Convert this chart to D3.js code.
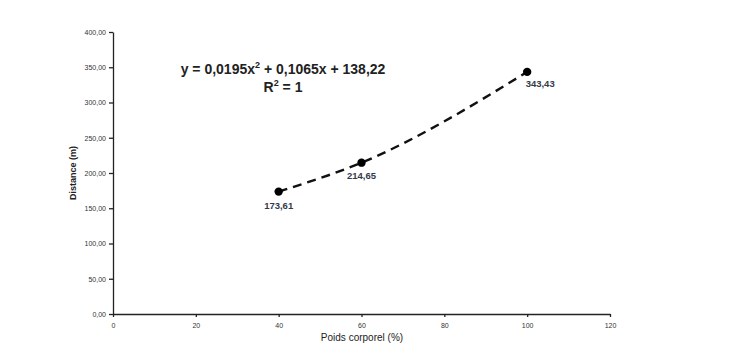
<!DOCTYPE html>
<html><head><meta charset="utf-8">
<script src="https://cdn.jsdelivr.net/npm/d3@7"></script>
<style>body{margin:0;background:#fff}svg{display:block}</style>
</head><body><svg id="c" width="750" height="359"></svg>
<script>
const xValues = [40, 60, 100];
const yValues = [173.61, 214.65, 343.43];
const pointLabels = ["173,61", "214,65", "343,43"];
const xTicks = [0, 20, 40, 60, 80, 100, 120];
const yTicks = [0, 50, 100, 150, 200, 250, 300, 350, 400];
const equationText = ["y = 0,0195x", "2", " + 0,1065x + 138,22"];
const r2Text = ["R", "2", " = 1"];

const svg = d3.select("#c");
const x = d3.scaleLinear().domain([0, 120]).range([113, 610]);
const y = d3.scaleLinear().domain([0, 400]).range([314, 32]);
const fmt = v => d3.format(".2f")(v).replace(".", ",");

const font = "Liberation Sans, Arial, sans-serif";

const gx = svg.append("g").attr("transform", "translate(0,314)")
  .call(d3.axisBottom(x).tickValues(xTicks).tickSize(3).tickSizeOuter(0).tickPadding(6));
const gy = svg.append("g").attr("transform", "translate(113,0)")
  .call(d3.axisLeft(y).tickValues(yTicks).tickFormat(fmt).tickSize(4).tickSizeOuter(0).tickPadding(3));
[gx, gy].forEach(g => {
  g.selectAll("path,line").attr("stroke", "#222").attr("stroke-width", 1.3);
  g.selectAll("text").attr("font-family", font).attr("font-size", 7).attr("fill", "#333");
});

svg.append("text").attr("x", 362).attr("y", 341).attr("text-anchor", "middle")
  .attr("font-family", font).attr("font-size", 10).attr("fill", "#222").text("Poids corporel (%)");
svg.append("text").attr("transform", "translate(76,173) rotate(-90)").attr("text-anchor", "middle")
  .attr("font-family", font).attr("font-size", 9).attr("font-weight", "bold").attr("fill", "#222").text("Distance (m)");

const pts = xValues.map((v, i) => [v, yValues[i]]);
svg.append("path").datum(pts)
  .attr("d", d3.line().x(d => x(d[0])).y(d => y(d[1])).curve(d3.curveMonotoneX))
  .attr("fill", "none").attr("stroke", "#111").attr("stroke-width", 2.4)
  .attr("stroke-dasharray", "9,6");

svg.selectAll("circle.pt").data(pts).join("circle")
  .attr("cx", d => x(d[0])).attr("cy", d => y(d[1])).attr("r", 4.2).attr("fill", "#000");

const lblOff = [[0, 17], [0, 16], [13, 15]];
svg.selectAll("text.lbl").data(pts).join("text")
  .attr("x", (d, i) => x(d[0]) + lblOff[i][0]).attr("y", (d, i) => y(d[1]) + lblOff[i][1])
  .attr("text-anchor", "middle").attr("font-family", font).attr("font-size", 9.5)
  .attr("font-weight", "bold").attr("fill", "#333a48").text((d, i) => pointLabels[i]);

const eq = svg.append("text").attr("x", 283).attr("y", 74).attr("text-anchor", "middle")
  .attr("font-family", font).attr("font-size", 14).attr("font-weight", "bold").attr("fill", "#222");
eq.append("tspan").text(equationText[0]);
eq.append("tspan").attr("font-size", 9).attr("dy", -6).text(equationText[1]);
eq.append("tspan").attr("dy", 6).text(equationText[2]);

const r2 = svg.append("text").attr("x", 283).attr("y", 92).attr("text-anchor", "middle")
  .attr("font-family", font).attr("font-size", 14).attr("font-weight", "bold").attr("fill", "#222");
r2.append("tspan").text(r2Text[0]);
r2.append("tspan").attr("font-size", 9).attr("dy", -6).text(r2Text[1]);
r2.append("tspan").attr("dy", 6).text(r2Text[2]);
</script></body></html>
